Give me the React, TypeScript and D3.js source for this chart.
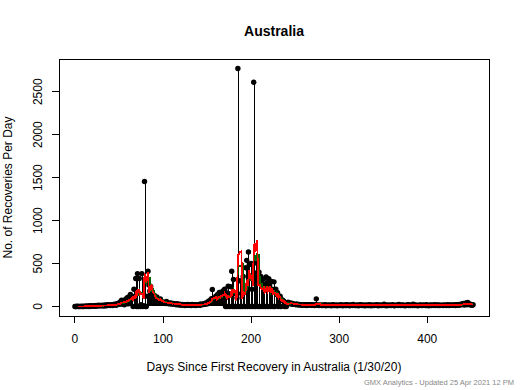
import * as d3 from "d3";

// daily recoveries, day 0 = 1/30/20
const earlyDays = [
  0, 0, 0, 2, 0, 0, 1, 0, 3, 0,
  0, 4, 2, 0, 5, 3, 0, 8, 2, 6,
  4, 10, 6, 3, 12, 8, 5, 14, 9, 11,
  7, 15, 10, 6, 18, 12, 9, 20, 14, 16,
  12, 22, 18, 10, 25, 20, 30, 15, 28, 35,
];
const firstWave = [
  40, 25, 60, 73, 30, 55, 20, 80, 65, 100,
  30, 110, 60, 140, 80, 120, 0, 200, 90, 325,
  0, 383, 0, 325, 0, 20, 383, 0, 10, 1455,
  0, 0, 120, 410, 250, 180, 232, 162, 120, 100,
  130, 90, 46, 110, 70, 60, 75, 89, 50, 55,
];
const lull = [
  45, 40, 50, 35, 60, 38, 42, 30, 35, 40,
  30, 28, 35, 25, 30, 20, 32, 25, 18, 28,
  20, 15, 25, 18, 22, 12, 20, 15, 24, 18,
  15, 20, 12, 25, 18, 15, 22, 10, 20, 16,
  18, 25, 15, 30, 20, 28, 22, 35, 25, 40,
];
const secondWave = [
  30, 55, 45, 70, 60, 90, 197, 50, 100, 80,
  120, 60, 140, 90, 162, 70, 150, 110, 180, 130,
  200, 0, 160, 0, 236, 150, 0, 229, 410, 0,
  314, 0, 150, 0, 100, 2770, 0, 300, 0, 150,
  0, 350, 200, 0, 450, 537, 0, 635, 488, 0,
  500, 200, 0, 2610, 391, 0, 507, 350, 0, 400,
  0, 350, 280, 0, 320, 250, 0, 345, 275, 0,
  322, 250, 0, 290, 200, 0, 287, 0, 200, 140,
  160, 0, 100, 120, 0, 80, 70, 62, 0, 40,
  0, 45, 50, 35, 40, 30, 38, 25, 30, 28,
  25, 20, 30, 22, 18, 25, 20, 15, 22, 18,
  15, 20, 18, 12, 20, 15, 22, 18, 14, 20,
  15, 18, 12, 20, 89, 15, 18, 10, 16, 14,
];
const tail = [
  12, 18, 10, 15, 20, 8, 14, 16, 11, 19,
  13, 9, 17, 22, 10, 14, 12, 18, 8, 15,
  16, 11, 20, 13, 9, 18, 14, 10, 22, 12,
  15, 19, 8, 14, 17, 11, 25, 13, 10, 16,
  12, 18, 9, 15, 20, 14, 11, 17, 13, 8,
  19, 12, 16, 10, 22, 14, 9, 18, 12, 15,
  11, 17, 13, 20, 9, 15, 12, 18, 10, 14,
  16, 28, 11, 15, 9, 19, 13, 12, 17, 10,
  14, 20, 12, 8, 16, 13, 18, 11, 24, 15,
  10, 14, 19, 12, 16, 9, 15, 13, 20, 11,
  17, 12, 14, 10, 26, 15, 11, 18, 13, 9,
  16, 12, 19, 14, 10, 17, 13, 15, 11, 20,
  12, 16, 9, 14, 18, 11, 15, 13, 22, 10,
  14, 17, 12, 19, 11, 15, 13, 16, 10, 18,
  13, 15, 11, 20, 14, 12, 17, 16, 13, 19,
  15, 18, 12, 22, 16, 14, 25, 18, 20, 30,
  22, 35, 18, 28, 40, 20, 46, 25, 30, 18,
  24, 15, 20,
];

const xTicks = [0, 100, 200, 300, 400];
const yTicks = [0, 500, 1000, 1500, 2000, 2500];

const recoveries = [...earlyDays, ...firstWave, ...lull, ...secondWave, ...tail];

function trailingMean(values: number[], k: number) {
  const out: [number, number][] = [];
  for (let i = k - 1; i < values.length; i++) {
    out.push([i, d3.mean(values.slice(i - k + 1, i + 1)) as number]);
  }
  return out;
}

const W = 520;
const H = 390;
const left = 59, right = 489, top = 59, bottom = 316;

// R-style 4% axis padding
function padded(lo: number, hi: number): [number, number] {
  const p = (hi - lo) * 0.04;
  return [lo - p, hi + p];
}

export default function App() {
  const n = recoveries.length;
  const x = d3.scaleLinear().domain(padded(0, n - 1)).range([left, right]);
  const y = d3.scaleLinear().domain(padded(0, d3.max(recoveries) as number)).range([bottom, top]);

  const line = d3.line<[number, number]>().x((d) => x(d[0])).y((d) => y(d[1]));
  const red = trailingMean(recoveries, 5);
  const green = trailingMean(recoveries, 7);

  const font = "'Liberation Sans', Arial, sans-serif";

  return (
    <svg width={W} height={H} style={{ position: "absolute", left: 0, top: 0, background: "#fff" }} fontFamily={font}>
      <rect width={W} height={H} fill="#fff" />
      <text x={(left + right) / 2} y={36} textAnchor="middle" fontSize={14} fontWeight="bold">Australia</text>

      {/* h-type lines */}
      <g stroke="#000" strokeWidth={1} shapeRendering="crispEdges">
        {recoveries.map((v, i) => (
          <line key={i} x1={Math.round(x(i)) + 0.5} x2={Math.round(x(i)) + 0.5} y1={y(0)} y2={y(v)} />
        ))}
      </g>
      <g fill="#000">
        {recoveries.map((v, i) => (
          <circle key={i} cx={x(i)} cy={y(v)} r={2.7} />
        ))}
      </g>
      <path d={line(green) || undefined} fill="none" stroke="#006400" strokeWidth={1.8} shapeRendering="crispEdges" />
      <path d={line(red) || undefined} fill="none" stroke="#ff0000" strokeWidth={1.8} shapeRendering="crispEdges" />

      <g shapeRendering="crispEdges">
        <rect x={left} y={top} width={right - left} height={bottom - top} fill="none" stroke="#000" strokeWidth={1} />

        {/* x axis */}
        <g stroke="#000">
          <line x1={x(xTicks[0])} x2={x(xTicks[xTicks.length - 1])} y1={bottom} y2={bottom} />
          {xTicks.map((t) => (
            <line key={t} x1={x(t)} x2={x(t)} y1={bottom} y2={bottom + 7} />
          ))}
        </g>

        {/* y axis */}
        <g stroke="#000">
          <line x1={left} x2={left} y1={y(yTicks[0])} y2={y(yTicks[yTicks.length - 1])} />
          {yTicks.map((t) => (
            <line key={t} x1={left - 7} x2={left} y1={y(t)} y2={y(t)} />
          ))}
        </g>
      </g>
      {xTicks.map((t) => (
        <text key={t} x={x(t)} y={343} textAnchor="middle" fontSize={12}>{t}</text>
      ))}
      <text x={(left + right) / 2} y={371} textAnchor="middle" fontSize={12}>Days Since First Recovery in Australia (1/30/20)</text>
      {yTicks.map((t) => (
        <text key={t} transform={`translate(42,${y(t)}) rotate(-90)`} textAnchor="middle" fontSize={12}>{t}</text>
      ))}
      <text transform={`translate(12,${(top + bottom) / 2}) rotate(-90)`} textAnchor="middle" fontSize={12}>No. of Recoveries Per Day</text>

      <text x={514} y={385} textAnchor="end" fontSize={7.5} fill="#888">GMX Analytics - Updated  25 Apr 2021 12 PM</text>
    </svg>
  );
}
